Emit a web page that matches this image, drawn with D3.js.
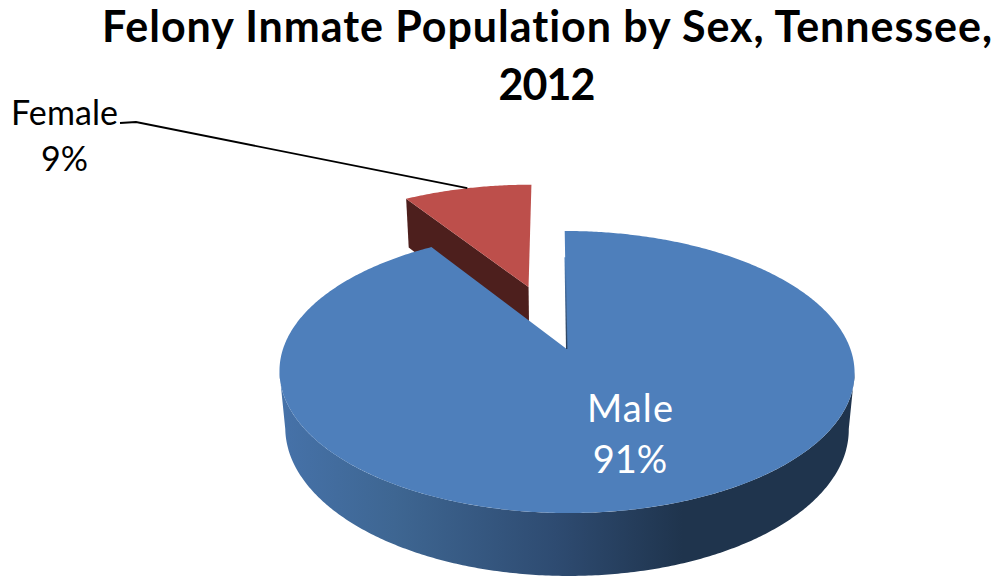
<!DOCTYPE html>
<html>
<head>
<meta charset="utf-8">
<title>Felony Inmate Population by Sex, Tennessee, 2012</title>
<script src="https://cdn.jsdelivr.net/npm/d3@7/dist/d3.min.js"></script>
<style>
html, body { margin: 0; padding: 0; background: #fff; }
svg { display: block; }
text { font-family: Lato, "Open Sans", sans-serif; font-variant-ligatures: none; }
</style>
</head>
<body>
<svg id="chart" width="999" height="576"></svg>
<script>
const categories = ["Male", "Female"];
const shares = [91, 9];
const titleLines = ["Felony Inmate Population by Sex, Tennessee,", "2012"];
const titleWidths = [890, 97];

const svg = d3.select("#chart");
const defs = svg.append("defs");

// Perspective camera for the disc. Plane coordinates: X to the right, t toward
// the viewer, h = 0 on the top face and h = 1 on the underside.
const cam = { x0: 566.7, y0: 349, C: 283.7, A: 137.3, B: -0.163, D: 0.02, E: 57.2, skew: 2 };
const project = (X, t, h = 0) => {
  const w = 1 + cam.B * t + cam.D * h;
  return [cam.x0 + cam.skew * t + cam.C * X / w, cam.y0 + (cam.A * t + cam.E * h) / w];
};

const explosion = { Male: 0, Female: 0.507 };

const pie = d3.pie().sort(null).value(d => d.share);
const slices = pie(categories.map((name, i) => ({ name, share: shares[i] })));
slices.forEach(s => {
  const mid = (s.startAngle + s.endAngle) / 2;
  const e = explosion[s.data.name];
  s.ox = e * Math.sin(mid);
  s.ot = -e * Math.cos(mid);
  s.mid = mid;
});

// A point on the slice's own plane, at radius r and clock angle a.
const pt = (s, a, r = 1, h = 0) =>
  project(s.ox + r * Math.sin(a), s.ot - r * Math.cos(a), h);

const line = d3.line();
const arcAngles = (a0, a1) => {
  const n = Math.max(2, Math.ceil(Math.abs(a1 - a0) / 0.01));
  return d3.range(n + 1).map(i => a0 + (a1 - a0) * i / n);
};
const faceOutline = s => line([
  pt(s, s.startAngle, 0),
  ...arcAngles(s.startAngle, s.endAngle).map(a => pt(s, a))
]) + "Z";

const [male, female] = slices;

// Side shading of the rim runs left to right across the disc.
const rim = defs.append("linearGradient")
  .attr("id", "rimShade")
  .attr("gradientUnits", "userSpaceOnUse")
  .attr("x1", 280).attr("x2", 855).attr("y1", 0).attr("y2", 0);
[[0, "#4672a9"], [0.2, "#3e6692"], [0.48, "#2e4b71"], [0.7, "#1f344d"], [1, "#1f344d"]]
  .forEach(([o, c]) => rim.append("stop").attr("offset", o).attr("stop-color", c));

const edge = defs.append("linearGradient")
  .attr("id", "edgeShade")
  .attr("gradientUnits", "userSpaceOnUse")
  .attr("x1", 0).attr("x2", 0)
  .attr("y1", pt(male, 0, 0.75)[1]).attr("y2", pt(male, 0, 0)[1]);
edge.append("stop").attr("offset", 0).attr("stop-color", "#4f81bd");
edge.append("stop").attr("offset", 1).attr("stop-color", "#2b3f58");

// Exploded slice: inner wall first, then its top face.
const fa = female.startAngle;
svg.append("path")
  .attr("fill", "#4d1f1d")
  .attr("d", line([pt(female, fa, 0), pt(female, fa, 1), pt(female, fa, 1, 1), pt(female, fa, 0, 1)]) + "Z");
svg.append("path")
  .attr("fill", "#bd4f4b")
  .attr("d", faceOutline(female));

// Front rim of the large slice, between the two silhouette generators of the disc.
const tangent = Math.acos(cam.B);
const front = arcAngles(tangent, 2 * Math.PI - tangent);
svg.append("path")
  .attr("fill", "url(#rimShade)")
  .attr("d", line([
    ...front.map(a => pt(male, a)),
    ...front.slice().reverse().map(a => pt(male, a, 1, 1))
  ]) + "Z");
svg.append("path")
  .attr("fill", "#4e7fbb")
  .attr("d", faceOutline(male));
svg.append("line")
  .attr("stroke", "url(#edgeShade)")
  .attr("stroke-width", 1.4)
  .attr("x1", pt(male, 0, 0)[0] + 0.01).attr("y1", pt(male, 0, 0)[1])
  .attr("x2", pt(male, 0, 0.75)[0]).attr("y2", pt(male, 0, 0.75)[1]);

// Title
const title = svg.append("text")
  .attr("text-anchor", "middle")
  .attr("font-size", 43)
  .attr("font-weight", 700)
  .attr("fill", "#000");
titleLines.forEach((t, i) => title.append("tspan")
  .attr("x", 547).attr("y", 42 + i * 58)
  .attr("textLength", titleWidths[i]).attr("lengthAdjust", "spacing")
  .text(t));

// Data labels
const pctLabel = s => `${s.data.share}%`;
const maleLabel = svg.append("text")
  .attr("text-anchor", "middle").attr("font-size", 38).attr("fill", "#fff");
maleLabel.append("tspan").attr("x", 630).attr("y", 422)
  .attr("textLength", 86).attr("lengthAdjust", "spacing").text(male.data.name);
maleLabel.append("tspan").attr("x", 630).attr("y", 473).text(pctLabel(male));

const femaleLabel = svg.append("text")
  .attr("text-anchor", "middle").attr("font-size", 34).attr("fill", "#000");
femaleLabel.append("tspan").attr("x", 64.5).attr("y", 125)
  .attr("textLength", 107).attr("lengthAdjust", "spacing").text(female.data.name);
femaleLabel.append("tspan").attr("x", 64.5).attr("y", 171).text(pctLabel(female));

// Leader from the label to the middle of the slice's outer arc
svg.append("path")
  .attr("fill", "none")
  .attr("stroke", "#000")
  .attr("stroke-width", 1.8)
  .attr("d", line([[120, 123], [136, 122], pt(female, female.mid)]));
</script>
</body>
</html>
